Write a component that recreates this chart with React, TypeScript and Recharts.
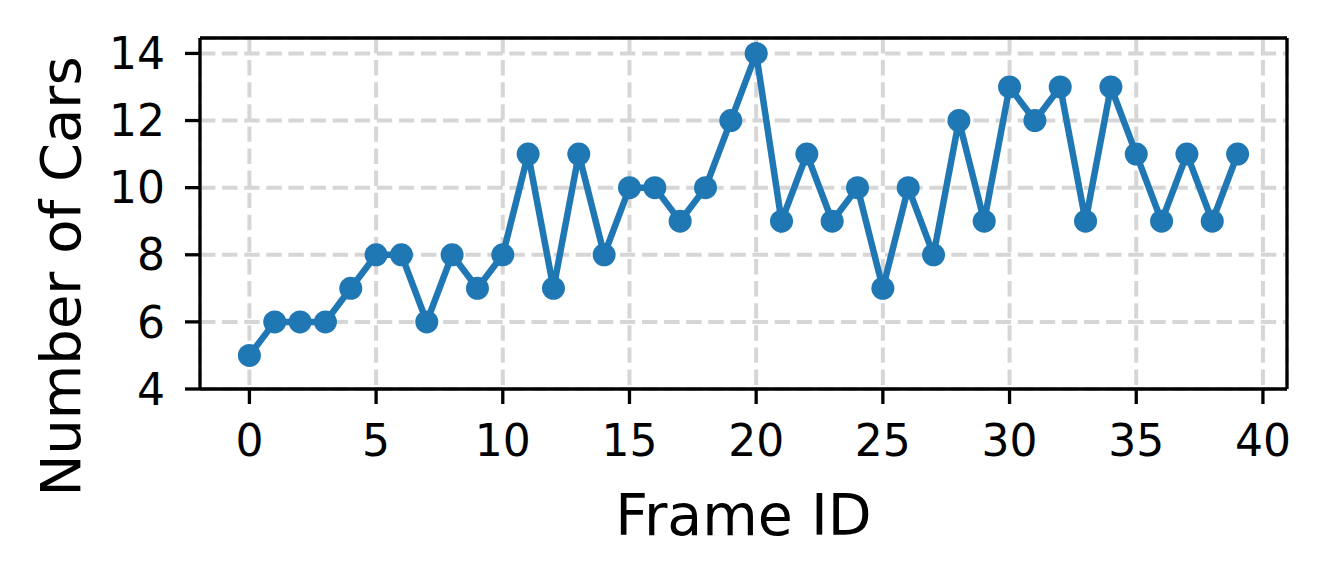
import { CartesianGrid, Label, Line, LineChart, ReferenceLine, XAxis, YAxis } from "recharts";

const frameIds = Array.from({ length: 40 }, (_, i) => i);
const carCounts = [
  5, 6, 6, 6, 7, 8, 8, 6, 8, 7, 8, 11, 7, 11, 8, 10, 10, 9, 10, 12,
  14, 9, 11, 9, 10, 7, 10, 8, 12, 9, 13, 12, 13, 9, 13, 11, 9, 11, 9, 11,
];
const xTicks = [0, 5, 10, 15, 20, 25, 30, 35, 40];
const yTicks = [4, 6, 8, 10, 12, 14];
const xDomain = [-1.95, 40.95];
const yDomain = [4, 14.46];

const data = frameIds.map((frame, i) => ({ frame, cars: carCounts[i] }));

const FONT = "DejaVu Sans";
const BLUE = "#1f77b4";
const axisStroke = { stroke: "#000", strokeWidth: 3.3 };
const tickStyle = { fill: "#000", fontSize: 44, fontFamily: FONT };

export default function App() {
  return (
    <div style={{ position: "absolute", left: 0, top: 0, background: "#fff" }}>
      <LineChart width={1328} height={582} data={data} margin={{ top: 38, right: 41, left: 0, bottom: 0 }}>
        <CartesianGrid stroke="#d6d6d6" strokeWidth={4} strokeDasharray="15.4 6.7" />
        <XAxis
          dataKey="frame"
          type="number"
          domain={xDomain}
          ticks={xTicks}
          allowDataOverflow
          height={193}
          tick={tickStyle}
          tickSize={15}
          tickMargin={21}
          tickLine={axisStroke}
          axisLine={axisStroke}
        >
          <Label
            content={({ viewBox }: any) => (
              <text
                x={viewBox.x + viewBox.width / 2}
                y={viewBox.y + 146}
                textAnchor="middle"
                fontSize={57}
                fontFamily={FONT}
                fill="#000"
              >
                Frame ID
              </text>
            )}
          />
        </XAxis>
        <YAxis
          type="number"
          domain={yDomain}
          ticks={yTicks}
          allowDataOverflow
          width={200}
          tick={tickStyle}
          tickSize={15}
          tickMargin={20}
          tickLine={axisStroke}
          axisLine={axisStroke}
        >
          <Label
            content={({ viewBox }: any) => {
              const x = viewBox.x + 80;
              const y = viewBox.y + viewBox.height / 2 + 63;
              return (
                <text
                  x={x}
                  y={y}
                  transform={`rotate(-90 ${x} ${y})`}
                  textAnchor="middle"
                  fontSize={56}
                  fontFamily={FONT}
                  fill="#000"
                >
                  Number of Cars
                </text>
              );
            }}
          />
        </YAxis>
        {/* top and right spines */}
        <ReferenceLine y={yDomain[1]} stroke="#000" strokeWidth={3.3} />
        <ReferenceLine x={xDomain[1]} stroke="#000" strokeWidth={3.3} />
        <Line
          dataKey="cars"
          stroke={BLUE}
          strokeWidth={6.5}
          dot={{ r: 11.5, fill: BLUE, stroke: "none" }}
          activeDot={false}
          isAnimationActive={false}
        />
      </LineChart>
    </div>
  );
}
